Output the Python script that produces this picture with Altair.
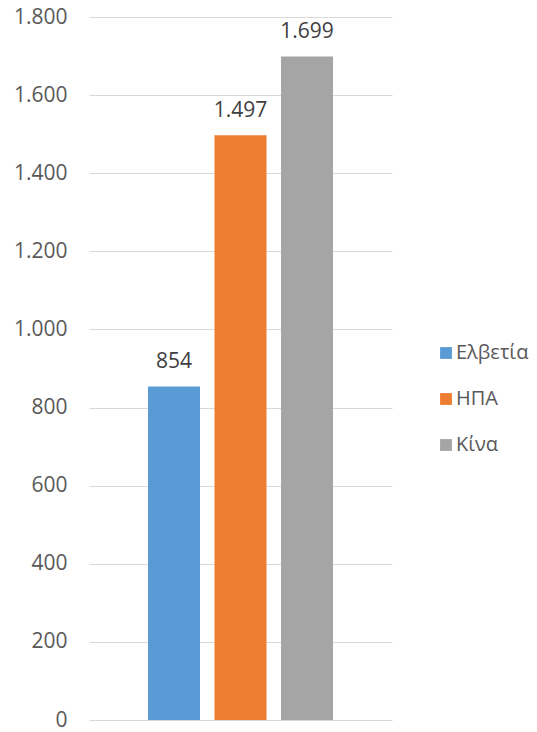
import altair as alt
import pandas as pd

countries = ["Ελβετία", "ΗΠΑ", "Κίνα"]
values = [854, 1497, 1699]
colors = ["#5B9BD5", "#ED7D31", "#A5A5A5"]

df = pd.DataFrame({"country": countries, "value": values})

FONT = "Open Sans"

x = alt.X("country:N", sort=countries, axis=None,
          scale=alt.Scale(paddingInner=0.218, paddingOuter=0.887))
y = alt.Y("value:Q",
          scale=alt.Scale(domain=[0, 1800], nice=False),
          axis=alt.Axis(values=list(range(0, 1801, 200)), title=None,
                        domain=False, ticks=False, labelPadding=22,
                        labelFont=FONT, labelFontSize=21, labelColor="#595959",
                        gridColor="#D9D9D9", gridWidth=1,
                        labelExpr="replace(format(datum.value, ','), ',', '.')"))

bars = alt.Chart(df).mark_bar().encode(
    x=x, y=y,
    color=alt.Color("country:N", sort=countries,
                    scale=alt.Scale(domain=countries, range=colors),
                    legend=alt.Legend(title=None, orient="none", legendX=347, legendY=326,
                                      symbolType="square", symbolSize=140,
                                      symbolStrokeWidth=0, labelFont=FONT,
                                      labelFontSize=20, labelColor="#595959",
                                      rowPadding=26, labelOffset=0, padding=0)),
)

labels = alt.Chart(df).transform_calculate(
    lbl="replace(format(datum.value, ','), ',', '.')"
).mark_text(font=FONT, fontSize=21, color="#404040", baseline="alphabetic", dy=-18).encode(
    x=x, y=y, text="lbl:N"
)

chart = (bars + labels).properties(
    width=303, height=703,
    autosize=alt.AutoSizeParams(type="none"),
    padding={"left": 81, "top": 9, "right": 137, "bottom": 9},
).configure_view(stroke=None)

chart.save("out.html", embed_options={"renderer": "svg", "actions": False})
